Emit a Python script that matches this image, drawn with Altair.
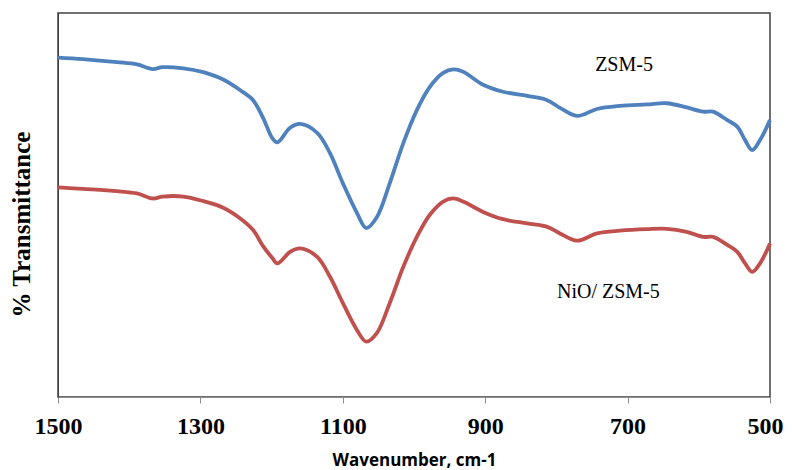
import altair as alt
import pandas as pd

# Wavenumber (cm-1) sample points
wavenumber = [1500, 1465, 1417, 1389, 1367, 1353, 1324, 1296, 1268, 1244, 1226, 1212,
              1199, 1192, 1174, 1160, 1136, 1118, 1100, 1080, 1067, 1052, 1034, 1015,
              996, 978, 959, 945, 931, 903, 875, 841, 813, 795, 771, 743, 711, 673,
              645, 617, 594, 580, 560, 546, 535, 525, 514, 500]

# % Transmittance (arbitrary offset units)
zsm5 = [88.4, 88.0, 87.2, 86.6, 85.4, 85.9, 85.6, 84.6, 82.7, 79.9, 77.3, 72.7,
        67.4, 66.3, 70.1, 71.1, 68.8, 63.5, 55.7, 47.9, 44.0, 46.9, 55.7, 66.1,
        74.7, 80.7, 84.4, 85.3, 84.7, 81.3, 79.5, 78.4, 77.3, 75.3, 73.2, 75.0,
        75.8, 76.2, 76.5, 75.4, 74.3, 74.3, 72.1, 70.4, 66.9, 64.3, 66.9, 72.1]

nio_zsm5 = [54.6, 54.2, 53.6, 53.0, 51.7, 52.2, 52.2, 51.0, 49.3, 46.5, 43.5, 39.3,
            36.2, 34.8, 37.8, 38.7, 36.5, 31.3, 24.5, 17.4, 14.4, 16.7, 24.5, 33.9,
            41.7, 47.4, 50.9, 51.7, 50.9, 48.2, 46.3, 45.2, 44.3, 42.6, 40.7, 42.6,
            43.3, 43.7, 43.8, 43.0, 41.7, 41.7, 39.6, 37.8, 34.8, 32.6, 34.8, 40.0]

series_names = ["ZSM-5", "NiO/ ZSM-5"]
series_colors = ["#4F81BD", "#C0504D"]

tick_values = [1500, 1300, 1100, 900, 700, 500]

label_text = ["ZSM-5", "NiO/ ZSM-5"]
label_x = [705, 727]
label_y = [86.5, 27.3]

df = pd.concat([
    pd.DataFrame({"wn": wavenumber, "T": zsm5, "sample": series_names[0]}),
    pd.DataFrame({"wn": wavenumber, "T": nio_zsm5, "sample": series_names[1]}),
])
labels = pd.DataFrame({"wn": label_x, "T": label_y, "text": label_text})

xscale = alt.Scale(domain=[1500, 500], nice=False, zero=False)
yscale = alt.Scale(domain=[0, 100], nice=False, zero=False)

x_axis = alt.Axis(
    title="Wavenumber, cm-1",
    values=tick_values,
    format="d",
    labelFlush=False,
    labelOverlap=False,
    labelOffset={"condition": {"test": "datum.value == 500", "value": -5}, "value": 0},
    grid=False,
    domainColor="#8c8c8c",
    tickColor="#8c8c8c",
    tickSize=6,
    labelFont="Liberation Serif",
    labelFontWeight="bold",
    labelFontSize=24,
    labelColor="#000000",
    labelPadding=11,
    titleFont="Open Sans",
    titleFontWeight="bold",
    titleFontSize=17,
    titleColor="#000000",
    titleY=63,
    titleBaseline="middle",
)
y_axis = alt.Axis(
    title="% Transmittance",
    labels=False,
    ticks=False,
    grid=False,
    domainColor="#404040",
    titleFont="Liberation Serif",
    titleFontWeight="bold",
    titleFontSize=25,
    titleColor="#000000",
    titleAngle=-90,
    titleX=-37,
    titleY=211,
    titleBaseline="middle",
    titleAlign="center",
)

lines = alt.Chart(df).mark_line(strokeWidth=3.8, interpolate="catmull-rom").encode(
    x=alt.X("wn:Q", scale=xscale, axis=x_axis),
    y=alt.Y("T:Q", scale=yscale, axis=y_axis),
    color=alt.Color("sample:N", scale=alt.Scale(domain=series_names, range=series_colors), legend=None),
    detail="sample:N",
)

text = alt.Chart(labels).mark_text(font="Liberation Serif", fontSize=20, color="#000000").encode(
    x=alt.X("wn:Q", scale=xscale),
    y=alt.Y("T:Q", scale=yscale),
    text="text:N",
)

chart = (lines + text).properties(
    width=712,
    height=384,
    autosize=alt.AutoSizeParams(type="none"),
    padding={"left": 50, "top": 5, "right": 14, "bottom": 72},
).configure_view(stroke="#404040", strokeWidth=1.5)

chart.save("out.html", embed_options={"renderer": "svg", "actions": False})
